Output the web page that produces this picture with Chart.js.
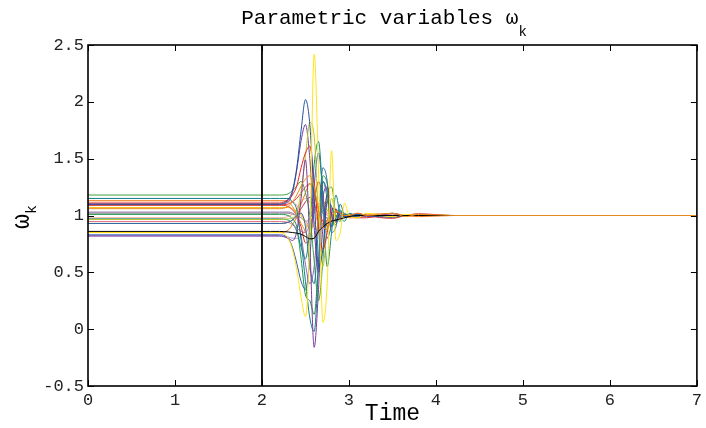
<!DOCTYPE html>
<html>
<head>
<meta charset="utf-8">
<script src="https://cdn.jsdelivr.net/npm/chart.js@4.4.1/dist/chart.umd.min.js"></script>
<style>
  html, body { margin: 0; padding: 0; background: #fff; }
</style>
</head>
<body>
<canvas id="canvasChart" width="706" height="428"></canvas>
<script>
// time grid shared by every trajectory
const timePts = [0, 2.1, 2.2, 2.3, 2.35, 2.4, 2.45, 2.5, 2.55, 2.6, 2.65, 2.7, 2.75, 2.8, 2.85, 2.9, 2.95, 3.0, 3.1, 3.2, 3.5, 3.65, 3.8, 4.2, 7];

const xTicks = [0, 1, 2, 3, 4, 5, 6, 7];
const yTicks = [-0.5, 0, 0.5, 1, 1.5, 2, 2.5];
const switchTime = 2;

// omega_k trajectories
const yellowA  = [0.85,0.85,0.85, 0.80,0.70,0.52,0.28,0.11,0.80, 2.42,1.40,0.06,0.40,1.57,0.78, 0.85,1.11,1.00,0.98,1.02, 0.99,1.01,1.00,1.00,1.00];
const blueA    = [1.10,1.10,1.10, 1.14,1.22,1.42,1.75,2.02,1.80, 1.15,0.55,0.70,1.12,1.08,0.95, 1.02,0.99,1.00,1.01,1.00, 0.985,1.00,1.00,1.00,1.00];
const blueB    = [0.83,0.83,0.83, 0.80,0.72,0.58,0.42,0.35,0.62, 1.25,1.55,1.20,0.80,0.92,1.06, 0.98,1.01,1.00,0.99,1.00, 1.00,1.00,1.00,1.00,1.00];
const purpleA  = [1.10,1.10,1.10, 1.12,1.20,1.40,1.66,1.80,1.50, 0.90,0.50,0.88,1.18,1.02,0.95, 1.02,1.00,1.00,1.00,1.00, 1.00,1.00,1.00,1.00,1.00];
const purpleB  = [0.82,0.82,0.82, 0.80,0.78,0.86,1.15,1.49,0.75, -0.16,0.35,1.15,1.25,1.00,0.94, 1.03,0.99,1.00,1.01,0.99, 1.015,1.00,1.00,1.00,1.00];
const tealA    = [1.15,1.15,1.15, 1.15,1.12,1.05,0.78,0.42,0.10, -0.02,0.55,1.30,1.20,0.90,0.98, 1.05,0.98,1.00,1.00,1.00, 1.00,1.00,1.00,1.00,1.00];
const tealB    = [0.97,0.97,0.97, 0.96,0.93,0.86,0.72,0.62,0.90, 1.45,1.65,1.15,0.55,0.85,1.18, 1.00,0.95,1.02,1.00,1.00, 1.00,1.00,1.00,1.00,1.00];
const tealC    = [0.93,0.93,0.93, 0.94,0.96,1.00,1.02,0.90,0.55, 0.40,0.90,1.42,1.30,0.85,0.90, 1.10,1.00,0.99,1.01,1.00, 1.00,1.00,1.00,1.00,1.00];
const redA     = [1.11,1.11,1.11, 1.14,1.18,1.26,1.42,1.55,1.61, 1.30,0.90,0.70,0.85,1.06,1.05, 0.97,1.00,1.00,1.02,1.00, 0.975,1.00,1.015,1.00,1.00];
const redB     = [1.09,1.09,1.09, 1.08,1.05,1.00,0.90,0.76,0.80, 1.10,1.30,1.15,0.90,0.95,1.05, 1.00,1.00,1.00,0.98,0.98, 1.02,1.00,1.00,1.00,1.00];
const redC     = [1.095,1.095,1.095, 1.10,1.12,1.15,1.20,1.25,1.28, 1.20,1.05,0.95,0.93,1.00,1.03, 1.00,0.99,1.00,1.00,1.00, 1.00,1.00,1.00,1.00,1.00];
const orangeA  = [1.06,1.06,1.06, 1.08,1.12,1.18,1.26,1.32,1.35, 1.25,1.05,0.90,0.88,0.98,1.04, 1.02,1.00,1.00,1.02,1.00, 1.02,0.99,1.01,1.00,1.00];
const orangeB  = [1.13,1.13,1.13, 1.12,1.08,1.01,0.93,0.86,0.79, 0.80,0.95,1.10,1.12,1.00,0.96, 1.00,1.01,1.00,0.99,1.00, 1.00,1.00,1.00,1.00,1.00];
const orangeC  = [0.85,0.85,0.85, 0.87,0.92,0.99,1.10,1.20,1.28, 1.20,1.05,0.92,0.95,1.03,1.00, 1.00,1.00,0.98,0.98,1.01, 1.015,1.00,0.99,1.00,1.00];
const greenA   = [1.18,1.18,1.18, 1.19,1.22,1.26,1.30,1.20,1.00, 0.60,0.25,0.60,1.20,1.25,1.00, 0.95,1.02,1.00,1.00,1.00, 1.00,1.00,1.00,1.00,1.00];
const greenB   = [1.01,1.01,1.01, 1.00,0.97,0.90,0.62,0.30,0.25, 0.13,0.60,1.35,1.28,1.00,0.92, 1.04,1.00,1.00,1.00,1.00, 1.00,1.00,1.00,1.00,1.00];
const olive    = [0.965,0.965,0.965, 0.97,0.98,1.02,1.22,1.52,1.82, 1.70,1.00,0.55,0.90,1.15,1.00, 0.97,1.00,1.00,1.00,1.00, 1.00,1.00,1.00,1.00,1.00];
const purpleC  = [1.03,1.03,1.03, 1.03,1.02,0.98,0.82,0.57,0.40, 0.55,1.00,1.30,1.15,0.90,1.00, 1.00,1.00,1.00,1.00,1.00, 1.00,1.00,1.00,1.00,1.00];
const salmonA  = [1.13,1.13,1.13, 1.13,1.12,1.09,1.02,0.95,0.90, 0.92,1.02,1.06,1.02,0.99,1.00, 1.00,1.00,1.00,1.00,1.00, 1.00,1.00,1.00,1.00,1.00];
const salmonB  = [0.98,0.98,0.98, 0.99,1.01,1.05,1.12,1.15,1.12, 1.05,0.97,0.95,0.98,1.01,1.00, 1.00,1.00,1.00,1.00,1.00, 1.00,1.00,1.00,1.00,1.00];
const pink     = [0.947,0.947,0.947, 0.94,0.92,0.89,0.86,0.85,0.92, 1.02,1.10,1.08,1.00,0.98,1.00, 1.00,1.00,1.00,1.00,1.00, 1.00,1.00,1.00,1.00,1.00];
const grey     = [1.02,1.02,1.02, 1.02,1.01,1.00,0.98,0.95,0.97, 1.05,1.08,1.02,0.98,1.00,1.00, 1.00,1.00,1.00,1.00,1.00, 1.00,1.00,1.00,1.00,1.00];
const brown    = [0.93,0.93,0.93, 0.94,0.96,1.00,1.06,1.12,1.16, 1.10,1.00,0.93,0.96,1.01,1.00, 1.00,1.00,1.00,1.00,1.00, 1.00,1.00,1.00,1.00,1.00];
const lavender = [0.82,0.82,0.82, 0.81,0.80,0.80,0.82,0.88,0.98, 1.08,1.10,1.03,0.97,1.00,1.00, 1.00,1.00,1.00,1.00,1.00, 1.00,1.00,1.00,1.00,1.00];
const yellowB  = [1.07,1.07,1.07, 1.07,1.06,1.04,1.00,0.93,0.88, 0.92,1.05,1.12,1.05,0.97,1.00, 1.00,1.00,1.01,1.00,1.00, 0.985,1.00,1.01,1.00,1.00];
const blackRef = [0.86,0.86,0.86, 0.855,0.85,0.845,0.835,0.815,0.795, 0.80,0.86,0.90,0.93,0.95,0.96, 0.97,0.98,0.99,1.00,1.00, 1.00,1.00,1.00,1.00,1.00];

// drawn first = on top
const trajectories = [
    [orangeA, '#e8891c'],
    [blackRef, '#000000'],
    [yellowA, '#ffe31a'],
    [blueA, '#1f4f9f'],
    [purpleB, '#7d3a9c'],
    [tealA, '#117c8a'],
    [redA, '#e3262a'],
    [olive, '#b9c62c'],
    [purpleA, '#6a3d9a'],
    [tealB, '#138a80'],
    [tealC, '#2a6fa0'],
    [greenA, '#3da23d'],
    [greenB, '#1c9450'],
    [blueB, '#2f5fb3'],
    [orangeB, '#f58a2a'],
    [orangeC, '#f27518'],
    [redB, '#d7301f'],
    [redC, '#e8413c'],
    [purpleC, '#8c6aa8'],
    [yellowB, '#f2c318'],
    [salmonA, '#f59a84'],
    [salmonB, '#f4a88f'],
    [pink, '#e0708a'],
    [grey, '#8c8c8c'],
    [brown, '#b03a48'],
    [lavender, '#9c9cd8']
];

const monoFont = '"Liberation Mono", "DejaVu Sans Mono", monospace';

let datasets = [{
    data: [{x: switchTime, y: -0.5}, {x: switchTime, y: 2.5}],
    borderColor: '#000',
    borderWidth: 1.8,
    pointRadius: 0
}];
trajectories.forEach(([vals, col]) => {
    datasets.push({
        data: timePts.map((t, i) => ({x: t, y: vals[i]})),
        borderColor: col,
        borderWidth: 1,
        pointRadius: 0,
        cubicInterpolationMode: 'monotone'
    });
});

// matlab style box, inward ticks, title and y label with subscript
const matlabFrame = {
    id: 'matlabFrame',
    afterDraw(chart) {
        const {ctx, chartArea: a, scales: {x, y}} = chart;
        ctx.save();
        ctx.strokeStyle = '#000';
        ctx.lineWidth = 1;
        ctx.beginPath();
        xTicks.forEach(v => {
            const px = Math.round(x.getPixelForValue(v)) + 0.5;
            ctx.moveTo(px, a.bottom); ctx.lineTo(px, a.bottom - 6);
            ctx.moveTo(px, a.top); ctx.lineTo(px, a.top + 6);
        });
        yTicks.forEach(v => {
            const py = Math.round(y.getPixelForValue(v)) + 0.5;
            ctx.moveTo(a.left, py); ctx.lineTo(a.left + 6, py);
            ctx.moveTo(a.right, py); ctx.lineTo(a.right - 6, py);
        });
        ctx.stroke();
        ctx.lineWidth = 1.6;
        ctx.strokeRect(a.left, a.top, a.right - a.left, a.bottom - a.top);

        ctx.fillStyle = '#000';
        ctx.textBaseline = 'alphabetic';
        // title
        const main = 'Parametric variables ω';
        ctx.font = '21px ' + monoFont;
        const w1 = ctx.measureText(main).width;
        ctx.font = '14px ' + monoFont;
        const w2 = ctx.measureText('k').width;
        const x0 = 384 - (w1 + w2) / 2;
        ctx.font = '21px ' + monoFont;
        ctx.textAlign = 'left';
        ctx.fillText(main, x0, 24);
        ctx.font = '14px ' + monoFont;
        ctx.fillText('k', x0 + w1, 36);

        // y label
        ctx.translate(29, (a.top + a.bottom) / 2 + 2);
        ctx.rotate(-Math.PI / 2);
        ctx.font = '25px ' + monoFont;
        const wo = ctx.measureText('ω').width;
        ctx.fillText('ω', -wo / 2 - 4, 0);
        ctx.font = '15px ' + monoFont;
        ctx.fillText('k', wo / 2 - 4, 7);
        ctx.restore();
    }
};

const ctx = document.getElementById('canvasChart').getContext('2d');
new Chart(ctx, {
    type: 'line',
    data: { datasets: datasets },
    plugins: [matlabFrame],
    options: {
        responsive: false,
        animation: false,
        devicePixelRatio: 1,
        layout: { padding: { top: 45, right: 3, left: 0, bottom: 0 } },
        plugins: { legend: { display: false }, tooltip: { enabled: false } },
        scales: {
            x: {
                type: 'linear',
                min: 0, max: 7,
                afterBuildTicks: s => { s.ticks = xTicks.map(v => ({value: v})); },
                afterFit: s => { s.height = 42; },
                grid: { display: false, drawTicks: false },
                border: { display: false },
                ticks: { color: '#222', padding: 4, maxRotation: 0, font: { family: monoFont, size: 17 } },
                title: { display: true, text: 'Time', color: '#000', padding: { top: -8, bottom: 0 }, font: { family: monoFont, size: 23 } }
            },
            y: {
                type: 'linear',
                min: -0.5, max: 2.5,
                afterBuildTicks: s => { s.ticks = yTicks.map(v => ({value: v})); },
                afterFit: s => { s.width = 88; },
                grid: { display: false, drawTicks: false },
                border: { display: false },
                ticks: { color: '#222', padding: 4, font: { family: monoFont, size: 17 },
                         callback: v => String(v) }
            }
        }
    }
});
</script>
</body>
</html>
